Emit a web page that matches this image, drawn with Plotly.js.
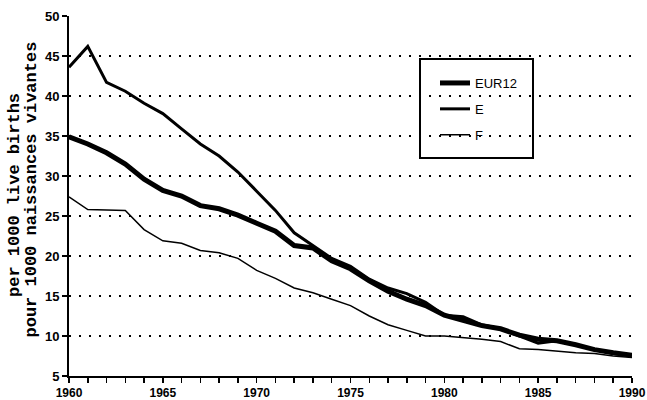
<!DOCTYPE html>
<html>
<head>
<meta charset="utf-8">
<script src="https://cdn.plot.ly/plotly-3.0.1.min.js"></script>
<style>html,body{margin:0;padding:0;background:#fff;}#chart{width:647px;height:400px;}</style>
</head>
<body>
<div id="chart"></div>
<script>
const years = [1960,1961,1962,1963,1964,1965,1966,1967,1968,1969,1970,1971,1972,1973,1974,1975,1976,1977,1978,1979,1980,1981,1982,1983,1984,1985,1986,1987,1988,1989,1990];
const eur12 = [34.9,34.0,32.9,31.5,29.6,28.2,27.5,26.3,25.9,25.1,24.1,23.1,21.3,21.0,19.4,18.4,16.9,15.6,14.6,13.8,12.6,12.0,11.3,10.9,10.1,9.6,9.4,8.9,8.3,7.9,7.6];
const spain = [43.6,46.2,41.7,40.6,39.1,37.8,35.9,34.0,32.5,30.5,28.1,25.7,22.9,21.3,19.7,18.7,17.1,16.0,15.3,14.2,12.6,12.4,11.4,10.9,10.0,9.1,9.4,8.9,8.3,7.8,7.6];
const france = [27.4,25.8,25.75,25.7,23.3,21.9,21.6,20.7,20.4,19.7,18.2,17.2,16.0,15.4,14.6,13.8,12.5,11.4,10.7,10.0,10.0,9.8,9.6,9.3,8.4,8.3,8.1,7.9,7.8,7.5,7.3];
const seriesNames = ["EUR12","E","F"];
const xTickLabels = years.map(y => (y % 5 === 0 ? String(y) : ""));
const yTicks = [5,10,15,20,25,30,35,40,45,50];
const yTitle1 = "per 1000 live births";
const yTitle2 = "pour 1000 naissances vivantes";

const traces = [
  {x: years, y: eur12, name: seriesNames[0], mode: "lines", legendgroup: "g1",
   line: {color: "#000", width: 5}},
  {x: years, y: spain, name: seriesNames[1], mode: "lines", legendgroup: "g2",
   line: {color: "#000", width: 3}},
  {x: years, y: france, name: seriesNames[2], mode: "lines", legendgroup: "g3",
   line: {color: "#000", width: 1.5}}
];

const L = 69, R = 15, T = 16, B = 24, W = 647, H = 400;
const pw = W - L - R, ph = H - T - B;
const px = v => (v - L) / pw;
const py = v => (H - B - v) / ph;

const layout = {
  width: W, height: H,
  margin: {l: L, r: R, t: T, b: B, pad: 0},
  paper_bgcolor: "#fff", plot_bgcolor: "#fff",
  showlegend: true,
  legend: {
    x: px(435), y: py(68), xanchor: "left", yanchor: "top",
    bgcolor: "rgba(0,0,0,0)", borderwidth: 0,
    traceorder: "grouped", tracegroupgap: 6,
    font: {family: "Liberation Sans, Arial, sans-serif", size: 13, color: "#000"}
  },
  xaxis: {
    range: [1960, 1990], tickmode: "array", tickvals: years, ticktext: xTickLabels,
    showgrid: false, zeroline: false,
    showline: true, linecolor: "#000", linewidth: 2,
    ticks: "outside", ticklen: 5, tickwidth: 1.5, tickcolor: "#000",
    tickfont: {family: "Liberation Sans, Arial, sans-serif", size: 12, color: "#000", weight: "bold"},
    fixedrange: true
  },
  yaxis: {
    range: [5, 50], tickmode: "array", tickvals: yTicks,
    showgrid: true, gridcolor: "#000", gridwidth: 2, griddash: "2px,8px",
    zeroline: false,
    showline: true, linecolor: "#000", linewidth: 2,
    ticks: "outside", ticklen: 5, tickwidth: 1.5, tickcolor: "#000",
    tickfont: {family: "Liberation Sans, Arial, sans-serif", size: 13, color: "#000", weight: "bold"},
    fixedrange: true
  },
  shapes: [
    {type: "rect", xref: "paper", yref: "paper", layer: "between",
     x0: px(420), x1: px(533), y0: py(158), y1: py(59),
     line: {color: "#000", width: 2}, fillcolor: "#fff"}
  ],
  annotations: [
    {text: yTitle1, xref: "paper", yref: "paper", x: px(14), y: py(195),
     xanchor: "center", yanchor: "middle", textangle: -90, showarrow: false,
     font: {family: "Courier New, Liberation Mono, monospace", size: 17, color: "#000", weight: "bold"}},
    {text: yTitle2, xref: "paper", yref: "paper", x: px(31.5), y: py(190),
     xanchor: "center", yanchor: "middle", textangle: -90, showarrow: false,
     font: {family: "Courier New, Liberation Mono, monospace", size: 17, color: "#000", weight: "bold"}}
  ]
};

Plotly.newPlot("chart", traces, layout, {displayModeBar: false, staticPlot: true});
</script>
</body>
</html>
